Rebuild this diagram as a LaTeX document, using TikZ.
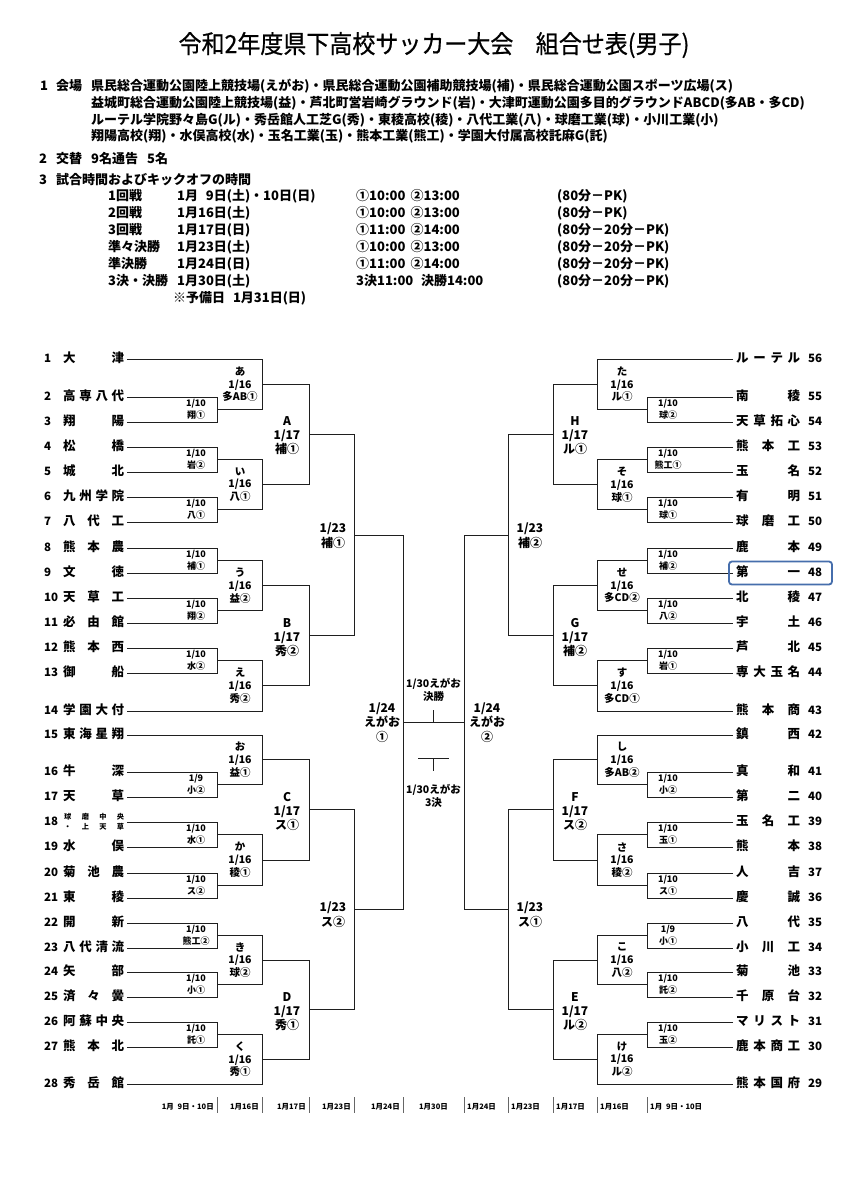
\documentclass[tikz,border=0pt]{standalone}
\usepackage{fontspec}
\setmainfont{Noto Sans CJK JP}
\newfontfamily\ttlfont[FakeStretch=0.92,FakeBold=0.6]{Noto Sans CJK JP}
\usetikzlibrary{calc}
\definecolor{hlblue}{RGB}{70,110,172}
\newcommand\bkt[4]{%
  \coordinate (#1a) at (#2 |- #3);
  \coordinate (#1b) at (#2 |- #4);
  \coordinate (#1) at ($(#1a)!0.5!(#1b)$);
  \draw[br] (#3) -- (#1a) -- (#1b) -- (#4);
}
\begin{document}
\begin{tikzpicture}[x=1pt,y=-1pt,
  br/.style={draw=black!88,line width=1pt},
  sepl/.style={draw=black!60,line width=0.7pt},
  num/.style={inner sep=0pt,anchor=west,font=\fontsize{11.5}{11.5}\selectfont\bfseries,text height=0.72em,text depth=0pt},
  nm/.style={inner sep=0pt,anchor=west,font=\fontsize{12.5}{12.5}\selectfont\bfseries,text height=0.76em,text depth=0pt},
  la/.style={inner sep=0pt,align=center,font=\fontsize{9}{12}\selectfont\bfseries},
  lb/.style={inner sep=0pt,align=center,font=\fontsize{10.5}{12.8}\selectfont\bfseries},
  lc/.style={inner sep=0pt,align=center,font=\fontsize{12}{14}\selectfont\bfseries},
  lq/.style={inner sep=0pt,align=center,font=\fontsize{12}{15}\selectfont\bfseries},
  ls/.style={inner sep=0pt,align=center,font=\fontsize{12}{14.5}\selectfont\bfseries},
  lf/.style={inner sep=0pt,align=center,font=\fontsize{10.5}{13}\selectfont\bfseries},
  hd/.style={inner sep=0pt,anchor=west,font=\fontsize{13}{13}\selectfont\bfseries,text height=0.76em,text depth=0pt},
  dt/.style={inner sep=0pt,font=\fontsize{7.5}{7.5}\selectfont\bfseries,text height=0.76em,text depth=0pt},
]
\useasboundingbox (0,0) rectangle (849,1200);
\fill[white] (0,0) rectangle (849,1200);

% ---------- header ----------
\node[inner sep=0pt,font=\ttlfont\fontsize{25}{25}\selectfont] (title) at (434,45) {令和2年度県下高校サッカー大会\hspace{0.9em}組合せ表(男子)};
\node[hd] (h1n) at (40,87) {1};
\node[hd] (h1k) at (56,87) {会場};
\node[hd] (h1a) at (91,87) {県民総合運動公園陸上競技場(えがお)・県民総合運動公園補助競技場(補)・県民総合運動公園スポーツ広場(ス)};
\node[hd] (h1b) at (91,104) {益城町総合運動公園陸上競技場(益)・芦北町営岩崎グラウンド(岩)・大津町運動公園多目的グラウンドABCD(多AB・多CD)};
\node[hd] (h1c) at (91,121) {ルーテル学院野々島G(ル)・秀岳館人工芝G(秀)・東稜高校(稜)・八代工業(八)・球磨工業(球)・小川工業(小)};
\node[hd] (h1d) at (91,137) {翔陽高校(翔)・水俣高校(水)・玉名工業(玉)・熊本工業(熊工)・学園大付属高校託麻G(託)};
\node[hd] (h2n) at (39,160) {2};
\node[hd] (h2k) at (56,160) {交替};
\node[hd] (h2a) at (91,160) {9名通告\hspace{0.7em}5名};
\node[hd] (h3n) at (39,181) {3};
\node[hd] (h3k) at (56,181) {試合時間およびキックオフの時間};
\foreach \y/\ca/\cb/\cc/\cd in {197/1回戦/{1月\hspace{0.6em}9日(土)・10日(日)}/{①10:00\hspace{0.4em}②13:00}/{(80分－PK)},
  214/2回戦/{1月16日(土)}/{①10:00\hspace{0.4em}②13:00}/{(80分－PK)},
  231/3回戦/{1月17日(日)}/{①11:00\hspace{0.4em}②14:00}/{(80分－20分－PK)},
  248/準々決勝/{1月23日(土)}/{①10:00\hspace{0.4em}②13:00}/{(80分－20分－PK)},
  265/準決勝/{1月24日(日)}/{①11:00\hspace{0.4em}②14:00}/{(80分－20分－PK)},
  282/3決・決勝/{1月30日(土)}/{3決11:00\hspace{0.6em}決勝14:00}/{(80分－20分－PK)}}{
  \node[hd] (ta\y) at (108,\y) {\ca};
  \node[hd] (tb\y) at (177,\y) {\cb};
  \node[hd] (tc\y) at (356,\y) {\cc};
  \node[hd] (td\y) at (557,\y) {\cd};
}
\node[hd] (tres) at (173,299) {※予備日\hspace{0.6em}1月31日(日)};

% ---------- teams left ----------
\foreach \i/\y/\nme in {1/359/{大\hfil 津},2/397/{高\hfil 専\hfil 八\hfil 代},3/422/{翔\hfil 陽},4/447/{松\hfil 橋},5/472/{城\hfil 北},6/497/{九\hfil 州\hfil 学\hfil 院},7/522/{八\hfil 代\hfil 工},8/548/{熊\hfil 本\hfil 農},9/573/{文\hfil 徳},10/598/{天\hfil 草\hfil 工},11/623/{必\hfil 由\hfil 館},12/648/{熊\hfil 本\hfil 西},13/673/{御\hfil 船},14/711/{学\hfil 園\hfil 大\hfil 付},15/735/{東\hfil 海\hfil 星\hfil 翔},16/772/{牛\hfil 深},17/797/{天\hfil 草},19/847/{水\hfil 俣},20/873/{菊\hfil 池\hfil 農},21/898/{東\hfil 稜},22/923/{開\hfil 新},23/948/{八\hfil 代\hfil 清\hfil 流},24/972/{矢\hfil 部},25/997/{済\hfil 々\hfil 黌},26/1022/{阿\hfil 蘇\hfil 中\hfil 央},27/1047/{熊\hfil 本\hfil 北},28/1084/{秀\hfil 岳\hfil 館}}{
  \node[num] (k\i) at (44,\y) {\i};
  \node[nm] (n\i) at (63,\y) {\makebox[61pt][s]{\nme}};
  \coordinate (f\i) at ($(n\i.east)+(3,0)$);
}
\node[num] (k18) at (44,822) {18};
\node[inner sep=0pt,anchor=west,align=left,font=\fontsize{7.2}{10.5}\selectfont\bfseries] (n18) at (64,822) {\makebox[60pt][s]{球\hfil 磨\hfil 中\hfil 央}\\\makebox[60pt][s]{・\hfil 上\hfil 天\hfil 草}};
\coordinate (f18) at ($(n18.east)+(3,0)$);

% ---------- teams right ----------
\foreach \i/\y/\nme in {56/359/{ル\hfil ー\hfil テ\hfil ル},55/397/{南\hfil 稜},54/422/{天\hfil 草\hfil 拓\hfil 心},53/447/{熊\hfil 本\hfil 工},52/472/{玉\hfil 名},51/497/{有\hfil 明},50/522/{球\hfil 磨\hfil 工},49/548/{鹿\hfil 本},48/573/{第\hfil 一},47/598/{北\hfil 稜},46/623/{宇\hfil 土},45/648/{芦\hfil 北},44/673/{専\hfil 大\hfil 玉\hfil 名},43/711/{熊\hfil 本\hfil 商},42/735/{鎮\hfil 西},41/772/{真\hfil 和},40/797/{第\hfil 二},39/822/{玉\hfil 名\hfil 工},38/847/{熊\hfil 本},37/873/{人\hfil 吉},36/898/{慶\hfil 誠},35/923/{八\hfil 代},34/948/{小\hfil 川\hfil 工},33/972/{菊\hfil 池},32/997/{千\hfil 原\hfil 台},31/1022/{マ\hfil リ\hfil ス\hfil ト},30/1047/{鹿\hfil 本\hfil 商\hfil 工},29/1084/{熊\hfil 本\hfil 国\hfil 府}}{
  \node[nm] (n\i) at (736,\y) {\makebox[64pt][s]{\nme}};
  \node[num] (k\i) at (808,\y) {\i};
  \coordinate (g\i) at ($(n\i.west)+(-3,0)$);
}

% ---------- columns ----------
\coordinate (cL1) at (217,0); \coordinate (cL2) at (262,0); \coordinate (cL3) at (309,0);
\coordinate (cL4) at (354,0); \coordinate (cL5) at (403,0);
\coordinate (cR1) at (647,0); \coordinate (cR2) at (597,0); \coordinate (cR3) at (553,0);
\coordinate (cR4) at (508,0); \coordinate (cR5) at (464,0);
\coordinate (xL1) at (196,0); \coordinate (xL2) at (240,0); \coordinate (xL3) at (287,0);
\coordinate (xL4) at (333,0); \coordinate (xL5) at (382,0);
\coordinate (xR1) at (668,0); \coordinate (xR2) at (622,0); \coordinate (xR3) at (575,0);
\coordinate (xR4) at (530,0); \coordinate (xR5) at (487,0);

% ---------- left bracket ----------
\bkt{m23}{cL1}{f2}{f3}
\bkt{m45}{cL1}{f4}{f5}
\bkt{m67}{cL1}{f6}{f7}
\bkt{m89}{cL1}{f8}{f9}
\bkt{m1011}{cL1}{f10}{f11}
\bkt{m1213}{cL1}{f12}{f13}
\bkt{m1617}{cL1}{f16}{f17}
\bkt{m1819}{cL1}{f18}{f19}
\bkt{m2021}{cL1}{f20}{f21}
\bkt{m2223}{cL1}{f22}{f23}
\bkt{m2425}{cL1}{f24}{f25}
\bkt{m2627}{cL1}{f26}{f27}
\bkt{ma}{cL2}{f1}{m23}
\bkt{mi}{cL2}{m45}{m67}
\bkt{mu}{cL2}{m89}{m1011}
\bkt{me}{cL2}{m1213}{f14}
\bkt{mo}{cL2}{f15}{m1617}
\bkt{mka}{cL2}{m1819}{m2021}
\bkt{mki}{cL2}{m2223}{m2425}
\bkt{mku}{cL2}{m2627}{f28}
\bkt{mA}{cL3}{ma}{mi}
\bkt{mB}{cL3}{mu}{me}
\bkt{mC}{cL3}{mo}{mka}
\bkt{mD}{cL3}{mki}{mku}
\bkt{mQa}{cL4}{mA}{mB}
\bkt{mQb}{cL4}{mC}{mD}
\bkt{mS}{cL5}{mQa}{mQb}

% ---------- right bracket ----------
\bkt{r5554}{cR1}{g55}{g54}
\bkt{r5352}{cR1}{g53}{g52}
\bkt{r5150}{cR1}{g51}{g50}
\bkt{r4948}{cR1}{g49}{g48}
\bkt{r4746}{cR1}{g47}{g46}
\bkt{r4544}{cR1}{g45}{g44}
\bkt{r4140}{cR1}{g41}{g40}
\bkt{r3938}{cR1}{g39}{g38}
\bkt{r3736}{cR1}{g37}{g36}
\bkt{r3534}{cR1}{g35}{g34}
\bkt{r3332}{cR1}{g33}{g32}
\bkt{r3130}{cR1}{g31}{g30}
\bkt{rta}{cR2}{g56}{r5554}
\bkt{rso}{cR2}{r5352}{r5150}
\bkt{rse}{cR2}{r4948}{r4746}
\bkt{rsu}{cR2}{r4544}{g43}
\bkt{rshi}{cR2}{g42}{r4140}
\bkt{rsa}{cR2}{r3938}{r3736}
\bkt{rko}{cR2}{r3534}{r3332}
\bkt{rke}{cR2}{r3130}{g29}
\bkt{rH}{cR3}{rta}{rso}
\bkt{rG}{cR3}{rse}{rsu}
\bkt{rF}{cR3}{rshi}{rsa}
\bkt{rE}{cR3}{rko}{rke}
\bkt{rQa}{cR4}{rH}{rG}
\bkt{rQb}{cR4}{rF}{rE}
\bkt{rS}{cR5}{rQa}{rQb}

% ---------- final ----------
\draw[br] (mS) -- (rS);
\coordinate (fin) at ($(mS)!0.5!(rS)$);
\coordinate (fintk) at ($(fin)+(0,-12)$);
\draw[br] (fin) -- (fintk);
\coordinate (thA) at ($(fin)+(-15.5,36)$);
\coordinate (thB) at ($(fin)+(15.5,36)$);
\coordinate (thC) at ($(fin)+(0,36)$);
\coordinate (thD) at ($(fin)+(0,49)$);
\draw[br] (thA) -- (thB);
\draw[br] (thC) -- (thD);
\node[lf] (fl1) at ($(fin)+(0,-32)$) {1/30えがお\\決勝};
\node[lf] (fl2) at ($(fin)+(0,74)$) {1/30えがお\\3決};

% ---------- labels left ----------
\node[la] (t23) at (xL1 |- m23) {1/10\\翔①};
\node[la] (t45) at (xL1 |- m45) {1/10\\岩②};
\node[la] (t67) at (xL1 |- m67) {1/10\\八①};
\node[la] (t89) at (xL1 |- m89) {1/10\\補①};
\node[la] (t1011) at (xL1 |- m1011) {1/10\\翔②};
\node[la] (t1213) at (xL1 |- m1213) {1/10\\水②};
\node[la] (t1617) at (xL1 |- m1617) {1/9\\小②};
\node[la] (t1819) at (xL1 |- m1819) {1/10\\水①};
\node[la] (t2021) at (xL1 |- m2021) {1/10\\ス②};
\node[la] (t2223) at (xL1 |- m2223) {1/10\\熊工②};
\node[la] (t2425) at (xL1 |- m2425) {1/10\\小①};
\node[la] (t2627) at (xL1 |- m2627) {1/10\\託①};
\node[lb] (tma) at (xL2 |- ma) {あ\\1/16\\多AB①};
\node[lb] (tmi) at (xL2 |- mi) {い\\1/16\\八①};
\node[lb] (tmu) at (xL2 |- mu) {う\\1/16\\益②};
\node[lb] (tme) at (xL2 |- me) {え\\1/16\\秀②};
\node[lb] (tmo) at (xL2 |- mo) {お\\1/16\\益①};
\node[lb] (tmka) at (xL2 |- mka) {か\\1/16\\稜①};
\node[lb] (tmki) at (xL2 |- mki) {き\\1/16\\球②};
\node[lb] (tmku) at (xL2 |- mku) {く\\1/16\\秀①};
\node[lc] (tmA) at ($(xL3 |- mA)+(0,1.5)$) {A\\1/17\\補①};
\node[lc] (tmB) at ($(xL3 |- mB)+(0,1.5)$) {B\\1/17\\秀②};
\node[lc] (tmC) at ($(xL3 |- mC)+(0,1.5)$) {C\\1/17\\ス①};
\node[lc] (tmD) at ($(xL3 |- mD)+(0,1.5)$) {D\\1/17\\秀①};
\node[lq] (tmQa) at ($(xL4 |- mQa)+(0,1)$) {1/23\\補①};
\node[lq] (tmQb) at ($(xL4 |- mQb)+(0,5)$) {1/23\\ス②};
\node[ls] (tmS) at (xL5 |- mS) {1/24\\えがお\\①};

% ---------- labels right ----------
\node[la] (u5554) at (xR1 |- r5554) {1/10\\球②};
\node[la] (u5352) at (xR1 |- r5352) {1/10\\熊工①};
\node[la] (u5150) at (xR1 |- r5150) {1/10\\球①};
\node[la] (u4948) at (xR1 |- r4948) {1/10\\補②};
\node[la] (u4746) at (xR1 |- r4746) {1/10\\八②};
\node[la] (u4544) at (xR1 |- r4544) {1/10\\岩①};
\node[la] (u4140) at (xR1 |- r4140) {1/10\\小②};
\node[la] (u3938) at (xR1 |- r3938) {1/10\\玉①};
\node[la] (u3736) at (xR1 |- r3736) {1/10\\ス①};
\node[la] (u3534) at (xR1 |- r3534) {1/9\\小①};
\node[la] (u3332) at (xR1 |- r3332) {1/10\\託②};
\node[la] (u3130) at (xR1 |- r3130) {1/10\\玉②};
\node[lb] (urta) at (xR2 |- rta) {た\\1/16\\ル①};
\node[lb] (urso) at (xR2 |- rso) {そ\\1/16\\球①};
\node[lb] (urse) at (xR2 |- rse) {せ\\1/16\\多CD②};
\node[lb] (ursu) at (xR2 |- rsu) {す\\1/16\\多CD①};
\node[lb] (urshi) at (xR2 |- rshi) {し\\1/16\\多AB②};
\node[lb] (ursa) at (xR2 |- rsa) {さ\\1/16\\稜②};
\node[lb] (urko) at (xR2 |- rko) {こ\\1/16\\八②};
\node[lb] (urke) at (xR2 |- rke) {け\\1/16\\ル②};
\node[lc] (urH) at ($(xR3 |- rH)+(0,1.5)$) {H\\1/17\\ル①};
\node[lc] (urG) at ($(xR3 |- rG)+(0,1.5)$) {G\\1/17\\補②};
\node[lc] (urF) at ($(xR3 |- rF)+(0,1.5)$) {F\\1/17\\ス②};
\node[lc] (urE) at ($(xR3 |- rE)+(0,1.5)$) {E\\1/17\\ル②};
\node[lq] (urQa) at ($(xR4 |- rQa)+(0,1)$) {1/23\\補②};
\node[lq] (urQb) at ($(xR4 |- rQb)+(0,5)$) {1/23\\ス①};
\node[ls] (urS) at (xR5 |- rS) {1/24\\えがお\\②};

% ---------- highlight ----------
\node[draw=hlblue,line width=1.8pt,rounded corners=3pt,minimum width=103pt,minimum height=23pt,inner sep=0pt] (hl) at (780.5,573) {};

% ---------- date row ----------
\foreach \c in {cL1,cL2,cL3,cL4,cL5,cR5,cR4,cR3,cR2,cR1}{
  \coordinate (s1\c) at ($(\c)+(0,1097)$);
  \coordinate (s2\c) at ($(\c)+(0,1113)$);
  \draw[sepl] (s1\c) -- (s2\c);
}
\node[dt,anchor=east] (d1) at ($(cL1)+(-3,1106)$) {1月\hspace{0.5em}9日・10日};
\node[dt,anchor=east] (d2) at ($(cL2)+(-3,1106)$) {1月16日};
\node[dt,anchor=east] (d3) at ($(cL3)+(-3,1106)$) {1月17日};
\node[dt,anchor=east] (d4) at ($(cL4)+(-3,1106)$) {1月23日};
\node[dt,anchor=east] (d5) at ($(cL5)+(-3,1106)$) {1月24日};
\node[dt] (d6) at ($(fin |- cL1)+(0,1106)$) {1月30日};
\node[dt,anchor=west] (d7) at ($(cR5)+(3,1106)$) {1月24日};
\node[dt,anchor=west] (d8) at ($(cR4)+(3,1106)$) {1月23日};
\node[dt,anchor=west] (d9) at ($(cR3)+(3,1106)$) {1月17日};
\node[dt,anchor=west] (d10) at ($(cR2)+(3,1106)$) {1月16日};
\node[dt,anchor=west] (d11) at ($(cR1)+(3,1106)$) {1月\hspace{0.5em}9日・10日};
\end{tikzpicture}
\end{document}
